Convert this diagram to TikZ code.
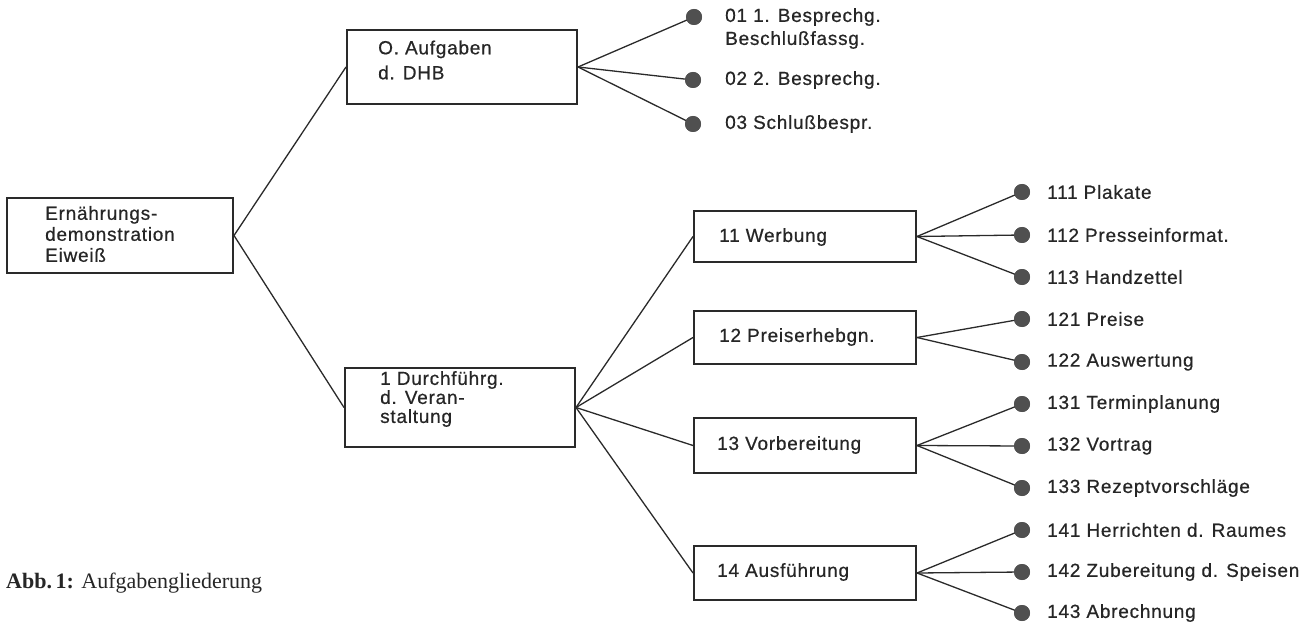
\documentclass[tikz,border=0pt]{standalone}
\usepackage{fontspec}
\setmainfont{Liberation Sans}[LetterSpace=4, FakeBold=0.6]
\newfontfamily\capfont{Liberation Serif}
\definecolor{linec}{HTML}{2A2A2A}
\definecolor{dotc}{HTML}{505050}
\definecolor{textc}{HTML}{262626}
\newcommand{\lbfont}{\fontsize{19}{21}\selectfont}
\begin{document}
\begin{tikzpicture}[x=1pt,y=-1pt,
  box/.style={draw=linec, line width=2pt, inner sep=0pt},
  lbl/.style={anchor=west, inner sep=0pt, text=textc, font=\lbfont, align=left},
  dot/.style={circle, fill=dotc, minimum size=16pt, inner sep=0pt},
  conn/.style={draw=linec, line width=1.3pt}]
\useasboundingbox (0,0) rectangle (1316,628);
% boxes
\node[box, minimum width=226pt, minimum height=75pt] (root) at (120,235.5) {};
\node[box, minimum width=230pt, minimum height=74pt] (b0) at (462,67) {};
\node[box, minimum width=230pt, minimum height=79pt] (b1) at (460,407.5) {};
\node[box, minimum width=222pt, minimum height=51pt] (b11) at (805,236.5) {};
\node[box, minimum width=222pt, minimum height=53pt] (b12) at (805,337.5) {};
\node[box, minimum width=222pt, minimum height=55pt] (b13) at (805,445.5) {};
\node[box, minimum width=222pt, minimum height=54pt] (b14) at (805,573) {};
% box texts
\node[lbl] (troot) at (45,234) {Ernährungs-\\demonstration\\Eiweiß};
\node[lbl] (tb0) at (378,60) {O. Aufgaben\\[4pt]d. DHB};
\node[lbl] (tb1) at (380,399) {1 Durchführg.\\[-2pt]d. Veran-\\[-2pt]staltung};
\node[lbl] (tb11) at (719,237) {11 Werbung};
\node[lbl] (tb12) at (719,337) {12 Preiserhebgn.};
\node[lbl] (tb13) at (717,445) {13 Vorbereitung};
\node[lbl] (tb14) at (717,572) {14 Ausführung};
% dots
\node[dot] (d01) at (694,17) {};
\node[dot] (d02) at (693,80) {};
\node[dot] (d03) at (693,124) {};
\node[dot] (d111) at (1022,192) {};
\node[dot] (d112) at (1022,235) {};
\node[dot] (d113) at (1022,277) {};
\node[dot] (d121) at (1022,319) {};
\node[dot] (d122) at (1022,362) {};
\node[dot] (d131) at (1022,404) {};
\node[dot] (d132) at (1022,446) {};
\node[dot] (d133) at (1022,488) {};
\node[dot] (d141) at (1022,530) {};
\node[dot] (d142) at (1022,572) {};
\node[dot] (d143) at (1022,613) {};
% dot labels
\node[lbl] (l01) at (725,28.5) {01 1. Besprechg.\\[2pt]Beschlußfassg.};
\node[lbl] (l02) at (725,80) {02 2. Besprechg.};
\node[lbl] (l03) at (725,124) {03 Schlußbespr.};
\node[lbl] (l111) at (1047,192) {111 Plakate};
\node[lbl] (l112) at (1047,235) {112 Presseinformat.};
\node[lbl] (l113) at (1047,277) {113 Handzettel};
\node[lbl] (l121) at (1047,319) {121 Preise};
\node[lbl] (l122) at (1047,362) {122 Auswertung};
\node[lbl] (l131) at (1047,404) {131 Terminplanung};
\node[lbl] (l132) at (1047,446) {132 Vortrag};
\node[lbl] (l133) at (1047,488) {133 Rezeptvorschläge};
\node[lbl] (l141) at (1047,530) {141 Herrichten d. Raumes};
\node[lbl] (l142) at (1047,572) {142 Zubereitung d. Speisen};
\node[lbl] (l143) at (1047,613) {143 Abrechnung};
% connectors
\draw[conn] (root.east) -- (b0.west);
\draw[conn] (root.east) -- (b1.west);
\draw[conn] (b0.east) -- (d01.center);
\draw[conn] (b0.east) -- (d02.center);
\draw[conn] (b0.east) -- (d03.center);
\draw[conn] (b1.east) -- (b11.west);
\draw[conn] (b1.east) -- (b12.west);
\draw[conn] (b1.east) -- (b13.west);
\draw[conn] (b1.east) -- (b14.west);
\draw[conn] (b11.east) -- (d111.center);
\draw[conn] (b11.east) -- (d112.center);
\draw[conn] (b11.east) -- (d113.center);
\draw[conn] (b12.east) -- (d121.center);
\draw[conn] (b12.east) -- (d122.center);
\draw[conn] (b13.east) -- (d131.center);
\draw[conn] (b13.east) -- (d132.center);
\draw[conn] (b13.east) -- (d133.center);
\draw[conn] (b14.east) -- (d141.center);
\draw[conn] (b14.east) -- (d142.center);
\draw[conn] (b14.east) -- (d143.center);
% redraw dots on top
\foreach \d in {d01,d02,d03,d111,d112,d113,d121,d122,d131,d132,d133,d141,d142,d143}
  \fill[dotc] (\d.center) circle (8pt);
% caption
\node[anchor=west, inner sep=0pt, text=textc, font={\capfont\fontsize{22}{26}\selectfont}] (cap) at (6,583) {\textbf{Abb.\,1:} Aufgabengliederung};
\end{tikzpicture}
\end{document}
